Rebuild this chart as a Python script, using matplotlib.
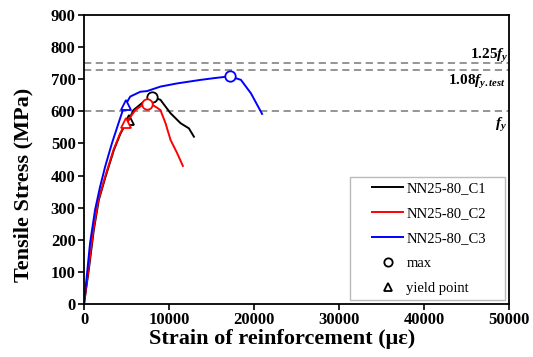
import matplotlib
matplotlib.use("Agg")
import matplotlib.pyplot as plt
from matplotlib.lines import Line2D
from matplotlib.patches import Rectangle

plt.rcParams['font.family'] = 'Liberation Serif'
plt.rcParams['mathtext.fontset'] = 'custom'
plt.rcParams['mathtext.rm'] = 'Liberation Serif:bold'
plt.rcParams['mathtext.it'] = 'Liberation Serif:italic:bold'
plt.rcParams['mathtext.bf'] = 'Liberation Serif:bold'

# Data (strain in microstrain, stress in MPa)
c1_strain = [0, 560, 1150, 1740, 2540, 3520, 4310, 4900, 5240, 5830, 7020, 8010, 8990, 10180, 11360, 12340, 12930]
c1_stress = [0, 106, 230, 324, 397, 480, 532, 560, 572, 604, 630, 644, 636, 594, 563, 547, 521]
c2_strain = [0, 510, 1100, 1690, 2490, 3470, 4260, 4930, 6040, 6900, 7460, 8200, 8990, 9590, 10180, 10970, 11630]
c2_stress = [0, 106, 230, 324, 397, 480, 532, 563, 604, 620, 623, 618, 604, 563, 511, 469, 430]
c3_strain = [0, 320, 710, 1300, 1890, 2490, 3280, 4060, 4650, 5440, 6630, 7420, 8990, 10970, 13730, 15500, 17160, 18460, 19640, 20950]
c3_stress = [0, 85, 189, 293, 365, 428, 500, 563, 610, 646, 661, 663, 677, 687, 698, 704, 709, 698, 656, 592]

max_strain = [8010, 7460, 17160]
max_stress = [644, 623, 709]
yield_strain = [5240, 4930, 4900]
yield_stress = [572, 563, 620]

series_names = ['NN25-80_C1', 'NN25-80_C2', 'NN25-80_C3']
series_colors = ['black', 'red', 'blue']

ref_levels = [750, 730, 600]

W, H = 533, 357
fig = plt.figure(figsize=(W / 100, H / 100), dpi=100)
ax = fig.add_axes([0.1576, 0.1485, 0.7974, 0.8095])

for lvl in ref_levels:
    ax.axhline(lvl, color='#8c8c8c', lw=1.3, ls=(0, (4, 2.5)), zorder=1)

strains = [c1_strain, c2_strain, c3_strain]
stresses = [c1_stress, c2_stress, c3_stress]
# black yield marker sits partly hidden under the red curve
ax.plot(yield_strain[0], yield_stress[0], marker='^', ms=7, mfc='white', mec='black', mew=1.3, zorder=1.5)
for i in [0, 1, 2]:
    ax.plot(strains[i], stresses[i], color=series_colors[i], lw=1.4, zorder=2)
for i in range(3):
    ax.plot(max_strain[i], max_stress[i], marker='o', ms=7.5, mfc='white', mec=series_colors[i], mew=1.3, zorder=3)
for i in [1, 2]:
    ax.plot(yield_strain[i], yield_stress[i], marker='^', ms=7.5, mfc='white', mec=series_colors[i], mew=1.3, zorder=3)

ax.set_xlim(0, 50000)
ax.set_ylim(0, 900)
ax.set_xticks(range(0, 50001, 10000))
ax.set_yticks(range(0, 901, 100))
for lab in ax.get_xticklabels() + ax.get_yticklabels():
    lab.set_fontweight('bold')
    lab.set_fontsize(12)
ax.tick_params(axis='both', direction='out', length=4, width=1.2, pad=2)
for s in ax.spines.values():
    s.set_linewidth(1.3)

ax.set_xlabel('Strain of reinforcement (με)', fontsize=16, fontweight='bold')
ax.set_ylabel('Tensile Stress (MPa)', fontsize=16, fontweight='bold')
ax.xaxis.set_label_coords(0.465, -0.088)
ax.yaxis.set_label_coords(-0.118, 0.412)

ax.text(50000, 763, r'1.25$f_y$', ha='right', va='baseline', fontsize=11, fontweight='bold')
ax.text(49600, 682, r'1.08$f_{y.test}$', ha='right', va='baseline', fontsize=11, fontweight='bold')
ax.text(49700, 548, r'$f_y$', ha='right', va='baseline', fontsize=11, fontweight='bold')

# legend frame
frame = Rectangle((350 / W, 1 - 300 / H), 155 / W, 123 / H, transform=fig.transFigure,
                  facecolor='white', edgecolor='#bbbbbb', lw=1.0, zorder=4, clip_on=False)
ax.add_patch(frame)

handles = [Line2D([], [], color=c, lw=1.4) for c in series_colors]
handles += [Line2D([], [], ls='none', marker='o', ms=6, mfc='white', mec='black', mew=1.3),
            Line2D([], [], ls='none', marker='^', ms=6, mfc='white', mec='black', mew=1.3)]
labels = series_names + ['max', 'yield point']
leg = ax.legend(handles, labels, loc='upper left', bbox_to_anchor=(372 / W, 1 - 182 / H),
                bbox_transform=fig.transFigure, fontsize=10.5, frameon=False,
                handlelength=2.15, labelspacing=0.8, borderpad=0, handletextpad=0.2,
                borderaxespad=0)
leg.set_zorder(5)

fig.savefig('out.png', dpi=100)
